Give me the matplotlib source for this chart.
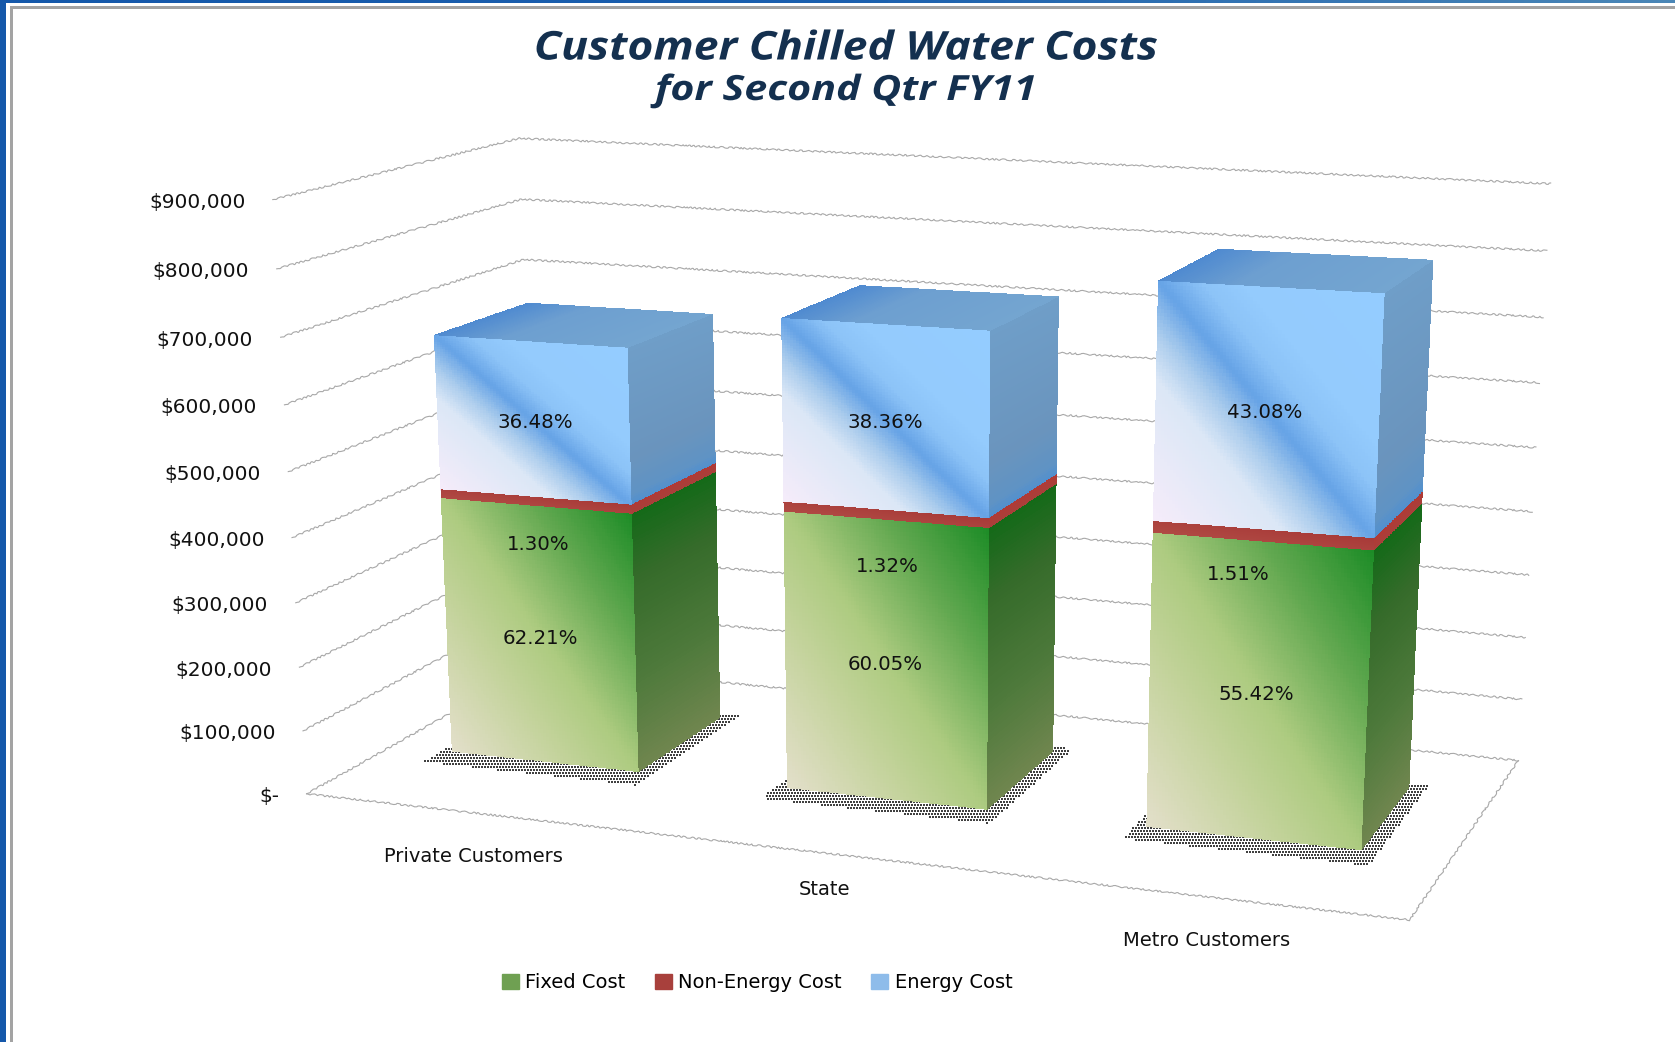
"""
Customer chilled water costs, stacked 3D-look bars projected by hand onto a flat axes.
"""
import numpy as np
import matplotlib
matplotlib.use('Agg')
import matplotlib.pyplot as plt
from matplotlib.colors import LinearSegmentedColormap
from matplotlib.patches import Patch, Rectangle
from matplotlib.path import Path
from matplotlib.patheffects import AbstractPathEffect
from matplotlib.transforms import Affine2D

plt.rcParams['font.family'] = ['DejaVu Sans']

customers = ['Private Customers', 'State', 'Metro Customers']
fixed_cost = [413000, 435400, 447800]
non_energy_cost = [8700, 9600, 12200]
energy_cost = [242500, 278100, 348100]
fixed_pct = ['62.21%', '60.05%', '55.42%']
non_energy_pct = ['1.30%', '1.32%', '1.51%']
energy_pct = ['36.48%', '38.36%', '43.08%']
y_ticks = [0, 100000, 200000, 300000, 400000, 500000, 600000, 700000, 800000, 900000]
y_tick_labels = ['$-', '$100,000', '$200,000', '$300,000', '$400,000', '$500,000',
                 '$600,000', '$700,000', '$800,000', '$900,000']

W, H = 1675, 1042

# scene (category, depth, dollars / 1000) -> picture pixels, fitted to the wall corners
CAMERA = np.array([
    [318.51798, 304.24173, -0.053484, 306.60332],
    [9.992127, -39.163766, -0.671865, 793.77942],
    [-0.03486025, 0.13619505, -0.0000583107, 1.0],
])
BAR_LEFT = [0.184, 1.192, 2.200]
BAR_WIDTH = 0.57
DEPTH_FRONT, DEPTH_BACK = 0.345, 0.75
RED_BEVEL = 2500

GREEN_FRONT = LinearSegmentedColormap.from_list('gf', [
    (0.0, '#e3dfca'), (0.3, '#c4d39c'), (0.5, '#adcb80'), (0.75, '#62a850'), (1.0, '#1c8c26')])
GREEN_SIDE = LinearSegmentedColormap.from_list('gs', [
    (0.0, '#70864f'), (0.35, '#4f7a3c'), (0.75, '#356b2a'), (1.0, '#136a18')])
RED_FRONT = LinearSegmentedColormap.from_list('rf', ['#b04a44', '#a83a38'])
RED_SIDE = LinearSegmentedColormap.from_list('rs', ['#a8403a', '#b03a36'])
BLUE_FRONT = LinearSegmentedColormap.from_list('bf', [
    (0.0, '#f6ecfa'), (0.3, '#dbe7f6'), (0.4, '#a9cbec'), (0.5, '#66a3e6'),
    (0.6, '#8cc3f7'), (0.7, '#94cbfd'), (1.0, '#94ccff')])
BLUE_SIDE = LinearSegmentedColormap.from_list('bs', [
    (0.0, '#4f8fd0'), (0.08, '#5f93c4'), (0.3, '#6a94bd'), (1.0, '#6f9ec8')])
BLUE_TOP = LinearSegmentedColormap.from_list('bt', [
    (0.0, '#4f8ad0'), (0.35, '#6d9fd0'), (1.0, '#74a5d0')])


class StretchX(AbstractPathEffect):
    """Widen a text about a vertical line, the reference title is stretched like this."""

    def __init__(self, factor, center):
        super().__init__()
        self.factor = factor
        self.center = center

    def draw_path(self, renderer, gc, tpath, affine, rgbFace=None):
        wide = affine + Affine2D().translate(-self.center, 0).scale(self.factor, 1).translate(self.center, 0)
        renderer.draw_path(gc, tpath, wide, rgbFace)


def project(x, y, z):
    x, y, z = np.asarray(x, float), np.asarray(y, float), np.asarray(z, float) / 1000.0
    m = CAMERA
    w = m[2, 0] * x + m[2, 1] * y + m[2, 2] * z + m[2, 3]
    px = (m[0, 0] * x + m[0, 1] * y + m[0, 2] * z + m[0, 3]) / w
    py = (m[1, 0] * x + m[1, 1] * y + m[1, 2] * z + m[1, 3]) / w
    return px, py


def draw_face(ax, corners, cmap, shade, zorder=3, n=70):
    # corners run bottom-left, bottom-right, top-right, top-left
    c = np.array(corners, dtype=float)
    u, v = np.meshgrid(np.linspace(0, 1, n + 1), np.linspace(0, 1, n + 1))
    s = ((1 - u) * (1 - v))[..., None] * c[0] + (u * (1 - v))[..., None] * c[1] \
        + (u * v)[..., None] * c[2] + ((1 - u) * v)[..., None] * c[3]
    X, Y = project(s[..., 0], s[..., 1], s[..., 2])
    uc = (u[:-1, :-1] + u[1:, 1:]) / 2
    vc = (v[:-1, :-1] + v[1:, 1:]) / 2
    ax.pcolormesh(X, Y, cmap(shade(uc, vc)), shading='flat', antialiased=False, zorder=zorder)


def diagonal(u, v):
    return (u + v) / 2


def upward(u, v):
    return v


def across(u, v):
    return u


def draw_segment(ax, x0, z0, z1, front_cmap, side_cmap):
    x1 = x0 + BAR_WIDTH
    draw_face(ax, [(x1, DEPTH_FRONT, z0), (x1, DEPTH_BACK, z0), (x1, DEPTH_BACK, z1), (x1, DEPTH_FRONT, z1)],
              side_cmap, upward)
    draw_face(ax, [(x0, DEPTH_FRONT, z0), (x1, DEPTH_FRONT, z0), (x1, DEPTH_FRONT, z1), (x0, DEPTH_FRONT, z1)],
              front_cmap, diagonal, zorder=4)


def draw_shadow(ax, x0):
    fx = np.array([x0 - 0.03, x0 + BAR_WIDTH + 0.045, x0 + BAR_WIDTH + 0.045, x0 - 0.03])
    fy = np.array([DEPTH_FRONT - 0.08, DEPTH_FRONT - 0.08, DEPTH_BACK + 0.03, DEPTH_BACK + 0.03])
    px, py = project(fx, fy, np.zeros(4))
    outline = Path(np.column_stack([px, py]))
    gx, gy = np.meshgrid(np.arange(px.min(), px.max(), 3.0), np.arange(py.min(), py.max(), 3.0))
    gx[::2] += 1.5
    pts = np.column_stack([gx.ravel(), gy.ravel()])
    pts = pts[outline.contains_points(pts)]
    ax.scatter(pts[:, 0], pts[:, 1], s=1.1, marker='s', color='#404040', linewidths=0, zorder=2)


def draw_walls(ax):
    for tick in y_ticks:
        lx, ly = project([0.0, 0.0, 3.0], [0.0, 1.0, 1.0], np.full(3, tick))
        line, = ax.plot(lx, ly, color='#a8a8a8', lw=0.8, zorder=1)
        line.set_sketch_params(scale=0.8, length=9, randomness=4)
    fx, fy = project([0.0, 3.0, 3.0], [0.0, 0.0, 1.0], np.zeros(3))
    line, = ax.plot(fx, fy, color='#a8a8a8', lw=0.8, zorder=1)
    line.set_sketch_params(scale=0.8, length=9, randomness=4)


def draw_frame(ax):
    strip = LinearSegmentedColormap.from_list('strip', ['#1558aa', '#1a5fae', '#4a86b6'])
    ax.pcolormesh(np.linspace(0, W, 101), [0, 3], strip(np.linspace(0, 1, 100))[None, :, :],
                  shading='flat', antialiased=False, zorder=0)
    ax.add_patch(Rectangle((0, 0), 6, H, facecolor='#1558aa', edgecolor='none', zorder=0))
    ax.add_patch(Rectangle((10, 6), W, 3, facecolor='#a3a3a3', edgecolor='none', zorder=0))
    ax.add_patch(Rectangle((10, 6), 3, H, facecolor='#a3a3a3', edgecolor='none', zorder=0))


def main():
    fig = plt.figure(figsize=(W / 100, H / 100), dpi=100)
    ax = fig.add_axes([0, 0, 1, 1])

    draw_frame(ax)
    draw_walls(ax)

    for i, x0 in enumerate(BAR_LEFT):
        draw_shadow(ax, x0)
        x1 = x0 + BAR_WIDTH
        green_top = fixed_cost[i]
        red_top = green_top + non_energy_cost[i]
        total = red_top + energy_cost[i]
        draw_segment(ax, x0, 0, green_top, GREEN_FRONT, GREEN_SIDE)
        draw_segment(ax, x0, red_top, total, BLUE_FRONT, BLUE_SIDE)
        draw_segment(ax, x0, green_top - RED_BEVEL, red_top + RED_BEVEL, RED_FRONT, RED_SIDE)
        draw_face(ax, [(x0, DEPTH_FRONT, total), (x1, DEPTH_FRONT, total),
                       (x1, DEPTH_BACK, total), (x0, DEPTH_BACK, total)], BLUE_TOP, across)

    # tick labels follow the front end of each gridline
    for tick, label in zip(y_ticks, y_tick_labels):
        tx, ty = project(0.0, 0.0, tick)
        ax.text(tx - 27.5, ty + 3, label, ha='right', va='center', fontsize=14.5, color='#111111', zorder=6)

    label_x = [535, 885, 1265]
    energy_y = [422, 422, 412]
    for x, y, s in zip(label_x, energy_y, energy_pct):
        ax.text(x, y, s, ha='center', va='center', fontsize=14.2, color='#111111', zorder=6)
    label_x = [538, 887, 1238]
    non_energy_y = [545, 567, 575]
    for x, y, s in zip(label_x, non_energy_y, non_energy_pct):
        ax.text(x, y, s, ha='center', va='center', fontsize=14.2, color='#111111', zorder=6)
    label_x = [540, 885, 1256]
    fixed_y = [639, 665, 695]
    for x, y, s in zip(label_x, fixed_y, fixed_pct):
        ax.text(x, y, s, ha='center', va='center', fontsize=14.2, color='#111111', zorder=6)

    cat_x = [473, 824, 1207]
    cat_y = [857, 889.5, 940]
    for x, y, s in zip(cat_x, cat_y, customers):
        ax.text(x, y, s, ha='center', va='center', fontsize=14, color='#111111', zorder=6)

    ax.text(846, 49, 'Customer Chilled Water Costs', ha='center', va='center', family='Open Sans',
            fontsize=28.5, fontweight='bold', fontstyle='italic', color='#14304f', zorder=6,
            path_effects=[StretchX(1.125, 846)])
    ax.text(846, 91, 'for Second Qtr FY11', ha='center', va='center', family='Open Sans',
            fontsize=25, fontweight='bold', fontstyle='italic', color='#14304f', zorder=6,
            path_effects=[StretchX(1.186, 846)])

    handles = [Patch(color='#6fa052', label='Fixed Cost'),
               Patch(color='#a8403c', label='Non-Energy Cost'),
               Patch(color='#8ebcea', label='Energy Cost')]
    ax.legend(handles=handles, loc='center', bbox_to_anchor=(757 / W, 1 - 983 / H), ncol=3, frameon=False,
              fontsize=14, handlelength=0.88, handleheight=0.8, handletextpad=0.33, columnspacing=1.5)

    ax.set_xlim(0, W)
    ax.set_ylim(H, 0)
    ax.axis('off')
    fig.savefig('out.png', dpi=100)
    plt.close(fig)


if __name__ == '__main__':
    main()
